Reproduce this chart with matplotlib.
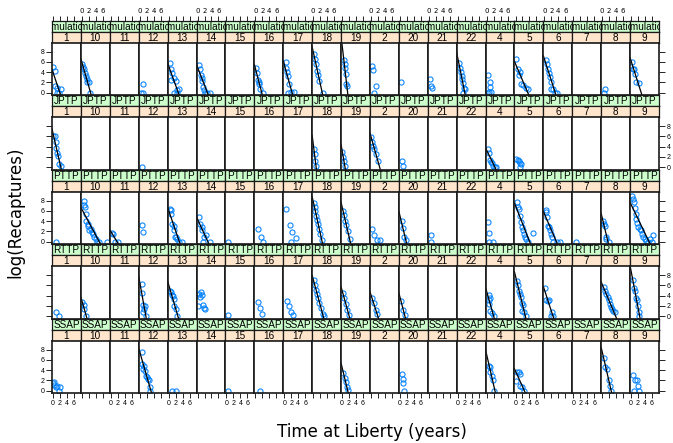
import matplotlib.pyplot as plt
import numpy as np

groups = ["1", "10", "11", "12", "13", "14", "15", "16", "17", "18", "19",
          "2", "20", "21", "22", "4", "5", "6", "7", "8", "9"]
tags = ["Simulation", "JPTP", "PTTP", "RTTP", "SSAP"]

# (time at liberty, log recaptures) per release group
simulation = {
    "1": ([0.05, 0.5, 0.7, 1.0, 1.2, 1.7, 2.4], [5.1, 4.25, 1.3, 1.0, 0, 0, 0.65]),
    "10": ([0.0, 0.35, 0.6, 0.9, 1.1, 1.4, 1.5, 1.9, 2.2], [5.6, 5.1, 4.6, 3.9, 3.3, 2.6, 2.1, 2.1, 0]),
    "12": ([0.9, 0.4, 1.0], [1.6, 0, 0]),
    "13": ([0.26, 0.8, 1.1, 0.6, 1.4, 2.0, 1.6, 2.3, 3.0, 2.4], [5.75, 4.6, 3.9, 2.5, 2.8, 2.2, 0, 0.45, 0.65, 0]),
    "14": ([0.45, 0.7, 0.9, 1.2, 1.4, 1.6, 1.9, 2.0, 2.8, 3.7], [5.4, 4.6, 3.5, 2.8, 2.3, 1.1, 0.45, 0, 0, 0]),
    "16": ([0.17, 0.54, 0.7, 0.9, 1.1, 1.3, 2.1], [4.9, 3.9, 2.4, 2.0, 1.6, 0.65, 0]),
    "17": ([0.35, 0.5, 0.7, 1.0, 1.3, 1.2, 1.8, 2.8], [5.9, 4.9, 4.1, 3.3, 1.6, 0, 0.1, 0.1]),
    "18": ([0.35, 0.6, 0.8, 1.1, 1.3, 1.6, 2.8], [7.5, 6.5, 5.6, 4.25, 3.5, 2.3, 0]),
    "19": ([0.45, 0.7, 0.8, 1.0, 1.2, 1.4], [6.3, 5.6, 4.8, 3.7, 1.6, 1.3]),
    "2": ([0.26, 0.54, 1.4, 1.0], [5.2, 4.4, 1.3, 0]),
    "20": ([0.36], [2.0]),
    "21": ([0.26, 0.6, 1.0], [2.7, 1.3, 1.0]),
    "22": ([0.35, 0.6, 0.9, 1.1, 1.3, 1.5, 1.7, 2.1, 1.5], [5.75, 4.9, 4.1, 3.3, 2.6, 1.8, 1.0, 0.65, 0]),
    "4": ([0.45, 0.9, 1.1, 0.7, 1.3, 0.5], [3.4, 2.0, 1.1, 0.2, 0.2, 0]),
    "5": ([0.26, 0.7, 0.9, 1.2, 1.65, 2.1, 3.0, 3.7], [6.5, 4.6, 3.5, 4.1, 1.6, 1.5, 0.85, 0.65]),
    "6": ([0.35, 0.7, 1.0, 1.3, 1.65, 2.0, 1.8, 2.6, 2.95, 3.7], [6.4, 5.6, 4.7, 3.9, 3.1, 2.1, 0.8, 0.65, 0, 0]),
    "8": ([0.7, 0.45], [0.65, 0]),
    "9": ([0.35, 0.54, 0.9, 1.1, 1.5, 2.3], [6.0, 4.6, 4.6, 3.6, 2.0, 1.8]),
}
jptp = {
    "1": ([0.08, 0.45, 0.73, 0.8, 1.2, 1.5, 1.6, 2.4], [6.1, 6.1, 5.0, 3.7, 2.8, 2.2, 0.65, 0.2]),
    "12": ([0.6], [0]),
    "18": ([0.2, 0.4, 0.6, 0.8], [3.5, 2.5, 1.2, 0.3]),
    "19": ([0.1, 0.3, 0.5, 0.8], [3.0, 2.0, 1.2, 0.2]),
    "2": ([0.1, 0.4, 0.7, 1.0, 1.4, 2.0], [5.8, 4.9, 4.2, 3.6, 2.5, 1.2]),
    "20": ([0.6, 1.0], [1.2, 0.3]),
    "4": ([0.45, 0.7, 0.9, 1.3, 1.6, 1.8, 2.5, 2.8], [3.6, 2.8, 1.3, 1.0, 0.85, 0.2, 0, 0]),
    "5": ([0.26, 0.6, 0.9, 1.4, 1.65, 1.2], [1.5, 1.3, 1.2, 0.85, 0.7, 0]),
}
pttp = {
    "1": ([0.73], [0]),
    "10": ([0.45, 0.73, 0.8, 1.1, 1.3, 1.6, 1.65, 2.1, 2.6, 2.8, 3.2, 3.5, 4.0, 4.3, 4.9, 7.1],
           [7.9, 7.1, 6.7, 5.4, 4.1, 3.5, 3.1, 2.2, 2.5, 1.8, 1.5, 0.85, 0.5, 0, 0, 0]),
    "11": ([0.45, 0.63, 1.3, 2.0], [1.6, 1.4, 0, 0]),
    "12": ([0.55, 0.9], [3.3, 1.8]),
    "13": ([0.26, 0.63, 0.8, 1.0, 1.4, 1.6, 1.9, 2.1, 2.5, 3.0, 3.95], [6.3, 6.1, 5.4, 3.5, 3.1, 2.2, 0.85, 0.85, 0.5, 0, 0]),
    "14": ([0.45, 0.73, 1.2, 1.4, 1.8, 2.4, 1.65, 3.5], [4.8, 3.5, 2.8, 2.3, 0.85, 1.2, 0, 0]),
    "15": ([0.44], [0]),
    "16": ([0.8, 1.5, 2.2], [2.5, 1.0, 0]),
    "17": ([0.6, 1.5, 2.3, 3.5, 2.0], [6.4, 3.2, 1.8, 0.8, 0]),
    "18": ([0.2, 0.4, 0.6, 0.9, 1.1, 1.4, 1.7, 2.0, 2.6], [7.5, 6.8, 6.0, 5.0, 4.3, 3.4, 2.5, 1.5, 0.3]),
    "19": ([0.3, 0.6, 0.9, 1.2, 1.6, 2.2], [6.0, 5.2, 4.0, 3.2, 2.0, 0.5]),
    "2": ([0.3, 0.9, 1.6, 2.7], [2.5, 1.3, 0.3, 0.4]),
    "20": ([0.5, 0.8, 1.3, 1.8], [4.0, 2.6, 1.0, 0.3]),
    "21": ([0.6, 0.7], [1.2, 0]),
    "4": ([0.45, 0.8, 0.6, 1.8], [3.9, 1.6, 0, 0]),
    "5": ([0.45, 0.73, 1.1, 1.2, 1.65, 1.85, 2.1, 2.5, 2.8, 3.0, 3.5, 4.9],
          [7.7, 6.7, 6.4, 5.1, 3.8, 2.8, 2.2, 1.5, 1.0, 0.5, 0, 1.6]),
    "6": ([0.35, 0.54, 0.8, 1.0, 1.4, 1.65, 1.95, 2.2, 2.6, 3.7, 4.4], [6.1, 5.75, 4.8, 3.1, 2.8, 2.2, 1.5, 0.85, 0, 0, 0]),
    "7": ([0.63], [0]),
    "8": ([0.26, 0.45, 0.73, 1.0, 1.2, 1.85], [4.1, 3.5, 3.1, 1.0, 0.5, 0]),
    "9": ([0.26, 0.45, 0.73, 1.0, 1.3, 1.45, 1.75, 2.1, 2.5, 2.8, 3.1, 3.5, 3.9, 4.25, 4.9, 5.5, 6.2, 5.9],
          [9.0, 8.4, 7.7, 6.6, 5.4, 4.4, 3.6, 2.8, 2.5, 2.2, 1.5, 0.85, 0.5, 0.2, 0, 0.5, 1.2, 0]),
}
rttp = {
    "1": ([0.8, 1.75], [0.9, 0.1]),
    "10": ([0.08, 0.45, 0.63, 1.2], [2.7, 2.1, 1.4, 0.1]),
    "12": ([0.55, 0.73, 1.0, 1.2, 1.5, 0.9, 1.85], [6.3, 4.5, 2.1, 1.4, 1.9, 0.8, 0.1]),
    "13": ([0.26, 0.63, 0.9, 1.2, 1.4, 1.65, 2.0, 2.5], [5.0, 4.7, 4.2, 3.9, 3.4, 1.9, 1.4, 0.1]),
    "14": ([0.54, 0.9, 0.73, 1.2, 0.26, 1.65, 1.85, 2.1], [4.4, 4.7, 3.7, 4.1, 1.9, 2.1, 1.6, 1.4]),
    "15": ([0.5], [0.3]),
    "16": ([0.8, 1.2, 1.9], [2.8, 1.5, 0.4]),
    "17": ([0.8, 1.3, 1.9, 2.5], [2.9, 2.0, 0.8, 0.3]),
    "18": ([0.2, 0.5, 0.8, 1.1, 1.4, 1.8, 2.2, 2.7, 3.0], [7.0, 6.0, 5.2, 4.3, 3.5, 2.5, 1.5, 0.5, 0]),
    "19": ([0.3, 0.6, 1.0, 1.5, 2.0], [4.5, 3.5, 2.3, 1.2, 0.3]),
    "2": ([0.3, 0.8, 1.3, 1.8], [3.5, 2.5, 1.2, 0.4]),
    "20": ([0.4, 0.8, 1.4], [3.0, 1.2, 0.3]),
    "4": ([0.63, 0.9, 0.73, 0.8, 1.1, 1.55, 2.2], [4.05, 3.6, 3.1, 2.4, 1.1, 0.6, 0.1]),
    "5": ([0.45, 0.73, 1.0, 1.2, 1.5, 1.85, 2.2, 2.0, 2.5, 3.0], [6.9, 6.0, 4.9, 4.4, 3.7, 2.5, 2.1, 1.1, 0.8, 0.1]),
    "6": ([0.26, 0.54, 1.0, 1.45, 2.1, 1.8, 2.6], [5.4, 3.1, 2.9, 3.2, 0.8, 0.1, 0.1]),
    "8": ([0.45, 0.9, 1.2, 1.55, 1.85, 2.1, 2.5, 2.8, 3.2, 3.7], [5.6, 5.0, 4.4, 3.7, 3.1, 2.3, 1.8, 1.4, 1.1, 0.8]),
    "9": ([0.54, 0.73, 1.2, 1.45, 1.65, 1.85, 2.3, 2.3], [7.1, 5.4, 5.0, 3.6, 3.1, 1.9, 0.8, 0.1]),
}
ssap = {
    "1": ([0.08, 0.35, 0.73, 1.2, 1.75, 2.1, 0.2], [1.4, 1.1, 0.8, 0.85, 0, 0.65, 1.6]),
    "12": ([0.55, 0.73, 1.2, 1.0, 1.5, 1.85, 2.1, 2.4, 2.6, 3.0, 2.8], [7.5, 5.2, 4.9, 4.2, 3.9, 2.9, 2.6, 2.3, 2.0, 0.8, 0]),
    "13": ([0.9, 2.1], [0, 0]),
    "15": ([0.44], [0]),
    "16": ([1.3], [0]),
    "19": ([0.4, 0.7, 1.0, 1.3, 1.6], [3.5, 2.5, 1.6, 0.8, 0.1]),
    "20": ([0.6, 0.8, 0.9, 1.1], [3.2, 2.2, 1.5, 0]),
    "4": ([0.63, 0.9, 1.1, 1.55, 1.85, 2.2], [4.9, 4.6, 3.6, 2.9, 2.0, 0]),
    "5": ([0.45, 0.9, 1.2, 0.26, 1.4, 1.85, 2.3], [3.7, 3.6, 3.3, 1.8, 1.0, 0.65, 0]),
    "8": ([0.45, 0.8, 1.35, 1.85, 2.3, 2.5], [6.4, 4.6, 4.2, 2.0, 0.85, 0]),
    "9": ([0.54, 1.2, 1.65, 1.9, 0.9, 2.4], [3.1, 2.0, 2.0, 0.85, 0, 0]),
}
points = {"Simulation": simulation, "JPTP": jptp, "PTTP": pttp, "RTTP": rttp, "SSAP": ssap}

# panels that show a fitted regression line
fitted = {
    "Simulation": ["1", "10", "13", "14", "16", "17", "18", "19", "22", "5", "6", "9"],
    "JPTP": ["1", "18", "19", "2", "4"],
    "PTTP": ["10", "11", "13", "14", "18", "19", "20", "5", "6", "8", "9"],
    "RTTP": ["10", "12", "13", "18", "19", "2", "20", "4", "5", "6", "8", "9"],
    "SSAP": ["12", "19", "4", "5", "8"],
}

W, H = 673, 443
fig = plt.figure(figsize=(W / 100, H / 100), dpi=100)
left, right = 52, 659
colw = (right - left) / len(groups)
top0, pitch, strip_h = 20.7, 74.5, 11
xlim = (-0.3, 8.0)
ylim = (-0.5, 9.75)
font = 'Liberation Sans'


def rect(x0, y0, w, h):
    return [x0 / W, 1 - (y0 + h) / H, w / W, h / H]


def frame(a, lw=1.0):
    for s in a.spines.values():
        s.set_linewidth(lw)
        s.set_color('#1a1a1a')


for r, tag in enumerate(tags):
    data = points[tag]
    for c, g in enumerate(groups):
        x0 = left + c * colw
        ytop = top0 + r * pitch
        for k, (label, col) in enumerate([(tag, '#ccffcc'), (g, '#ffe5cc')]):
            sax = fig.add_axes(rect(x0, ytop + k * strip_h, colw, strip_h))
            sax.set_facecolor(col)
            sax.set_xlim(xlim)
            sax.set_yticks([])
            sax.set_xticks([])
            frame(sax, 0.9)
            sax.text(0.5, 0.45, label, ha='center', va='center', fontsize=7.2, family=font,
                     transform=sax.transAxes, clip_on=True)
            if r == 0 and k == 0:
                sax.xaxis.tick_top()
                sax.set_xticks([0, 2, 4, 6])
                sax.tick_params(axis='x', direction='out', length=3.5, width=0.6, pad=1,
                                labelsize=5, labeltop=(c % 2 == 1))

        ax = fig.add_axes(rect(x0, ytop + 2 * strip_h, colw, pitch - 2 * strip_h))
        ax.set_xlim(xlim)
        ax.set_ylim(ylim)
        frame(ax, 1.2)
        ax.set_xticks([0, 2, 4, 6] if r == len(tags) - 1 else [])
        ax.tick_params(axis='x', direction='out', length=3.5, width=0.6, pad=1.5,
                       labelsize=5, labelbottom=(c % 2 == 0))
        ax.set_yticks([0, 2, 4, 6, 8])
        last = c == len(groups) - 1
        ax.tick_params(axis='y', direction='out', length=4, width=0.6, pad=1.5, labelsize=5,
                       left=(c == 0), right=last,
                       labelleft=(c == 0 and r % 2 == 0), labelright=(last and r % 2 == 1))
        for lab in ax.get_xticklabels() + ax.get_yticklabels():
            lab.set_family(font)

        if g in data:
            xs, ys = data[g]
            ax.plot(xs, ys, 'o', mfc='none', mec='#0080ff', ms=3.7, mew=0.75)
            if g in fitted[tag]:
                b, a = np.polyfit(xs, ys, 1)
                lx = np.array(xlim)
                ax.plot(lx, a + b * lx, color='black', lw=0.9)

fig.text(15 / W, 1 - 212 / H, 'log(Recaptures)', rotation=90, ha='center', va='center', fontsize=12)
fig.text(372 / W, 1 - 432 / H, 'Time at Liberty (years)', ha='center', va='center', fontsize=12)

fig.savefig('out.png', dpi=100)
